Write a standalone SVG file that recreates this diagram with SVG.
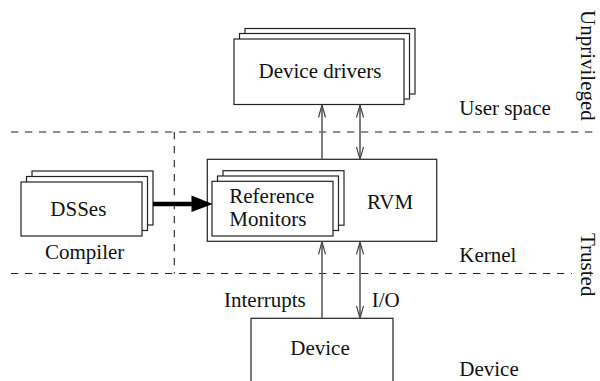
<svg xmlns="http://www.w3.org/2000/svg" width="600" height="381" viewBox="0 0 600 381">
<style>
text{font-family:"Liberation Serif","Times New Roman",serif;font-size:21px;fill:#111}
.box{fill:#fff;stroke:#222;stroke-width:1.2}
.dash{stroke:#222;stroke-width:1.1;stroke-dasharray:7.3 6.7;fill:none}
.arr{stroke:#666;stroke-width:1.7;fill:none}
.mid{text-anchor:middle}
</style>
<defs>
<marker id="open" viewBox="-14 -5 15 10" refX="0" refY="0" markerWidth="15" markerHeight="10" markerUnits="userSpaceOnUse" orient="auto-start-reverse">
<path d="M-12.5,-3.5 L0,0 L-12.5,3.5" fill="none" stroke="#444" stroke-width="1.2"/>
</marker>
</defs>
<g id="zones">
<line class="dash" x1="11" y1="132" x2="596" y2="132"/>
<line class="dash" x1="11" y1="273.5" x2="572" y2="273.5"/>
<line class="dash" x1="174.3" y1="132" x2="174.3" y2="273.5"/>
<text x="459.3" y="115">User space</text>
<text x="459.3" y="261.7">Kernel</text>
<text x="459.3" y="376">Device</text>
<text transform="translate(581,10) rotate(90)">Unprivileged</text>
<text transform="translate(581,233) rotate(90)">Trusted</text>
</g>
<g id="device-drivers">
<rect class="box" x="245" y="28.5" width="170" height="65.5"/>
<rect class="box" x="239.5" y="33.5" width="170" height="65.5"/>
<rect class="box" x="234" y="39" width="170" height="65.5"/>
<text class="mid" x="320" y="78.3">Device drivers</text>
</g>
<g id="dsses">
<rect class="box" x="32" y="171" width="121" height="54"/>
<rect class="box" x="26.5" y="176.5" width="121" height="54"/>
<rect class="box" x="21" y="182" width="121" height="54"/>
<text class="mid" x="78.3" y="216">DSSes</text>
<text class="mid" x="84.7" y="259">Compiler</text>
</g>
<g id="rvm">
<rect class="box" x="207.3" y="159.3" width="229.4" height="82"/>
<text class="mid" x="390" y="209">RVM</text>
</g>
<g id="reference-monitors">
<rect class="box" x="223" y="170.7" width="121" height="54.5"/>
<rect class="box" x="217.5" y="176" width="121" height="54.5"/>
<rect class="box" x="212" y="181.3" width="121" height="54.7"/>
<text x="229.3" y="203">Reference</text>
<text x="229.3" y="226">Monitors</text>
</g>
<g id="device">
<rect class="box" x="251" y="318.3" width="142" height="80"/>
<text class="mid" x="320" y="355">Device</text>
</g>
<g id="connectors">
<line x1="153" y1="204" x2="193" y2="204" stroke="#000" stroke-width="4.3"/>
<polygon points="191.5,195.5 212.7,204 191.5,212" fill="#000"/>
<line class="arr" x1="322" y1="159.3" x2="322" y2="105" marker-end="url(#open)"/>
<line class="arr" x1="360" y1="159.3" x2="360" y2="105" marker-start="url(#open)" marker-end="url(#open)"/>
<line class="arr" x1="322" y1="318.3" x2="322" y2="241.8" marker-end="url(#open)"/>
<line class="arr" x1="360" y1="241.8" x2="360" y2="318.3" marker-start="url(#open)" marker-end="url(#open)"/>
<text x="224" y="306.7">Interrupts</text>
<text x="371.7" y="306.7">I/O</text>
</g>
</svg>
